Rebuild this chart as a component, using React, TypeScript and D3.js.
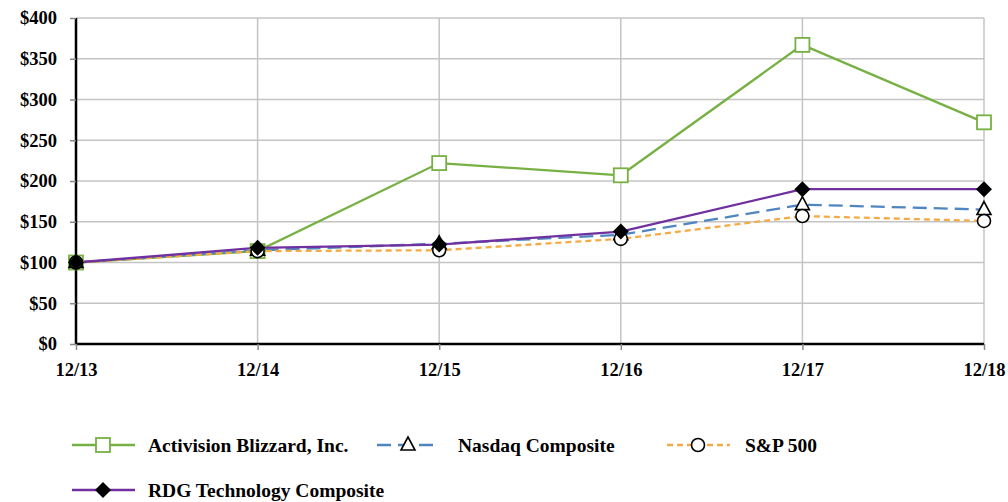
import React, { useEffect, useRef } from 'react';
import * as d3 from 'd3';

const periods = ['12/13', '12/14', '12/15', '12/16', '12/17', '12/18'];
const activision = [100, 114, 222, 207, 367, 272];
const nasdaq = [100, 115, 123, 134, 171, 165];
const sp500 = [100, 114, 115, 129, 157, 151];
const rdgTech = [100, 118, 122, 138, 190, 190];
const yTicks = [0, 50, 100, 150, 200, 250, 300, 350, 400];

type Series = {
  name: string;
  values: number[];
  color: string;
  dash: string | null;
  marker: 'square' | 'triangle' | 'circle' | 'diamond';
};

const series: Series[] = [
  { name: 'Activision Blizzard, Inc.', values: activision, color: '#77b043', dash: null, marker: 'square' },
  { name: 'Nasdaq Composite', values: nasdaq, color: '#4f86c0', dash: '14,7', marker: 'triangle' },
  { name: 'S&P 500', values: sp500, color: '#f5ab45', dash: '6,4', marker: 'circle' },
  { name: 'RDG Technology Composite', values: rdgTech, color: '#7030a0', dash: null, marker: 'diamond' },
];

const W = 1008;
const H = 502;
const FONT = '"Liberation Serif", "Times New Roman", serif';

const App: React.FC = () => {
  const svgRef = useRef<SVGSVGElement>(null);

  useEffect(() => {
    if (!svgRef.current) return;
    const svg = d3.select(svgRef.current);
    svg.selectAll('*').remove();

    const left = 76, right = 984, top = 18, bottom = 344;

    const x = d3.scalePoint<string>().domain(periods).range([left, right]);
    const y = d3.scaleLinear().domain([0, 400]).range([bottom, top]);

    // grid
    const grid = svg.append('g');
    yTicks.forEach(t => {
      grid.append('line')
        .attr('x1', left).attr('x2', right)
        .attr('y1', y(t)).attr('y2', y(t))
        .attr('stroke', '#c4c4c4').attr('stroke-width', 1.5);
    });
    periods.forEach(p => {
      grid.append('line')
        .attr('x1', x(p)!).attr('x2', x(p)!)
        .attr('y1', top).attr('y2', bottom)
        .attr('stroke', '#c4c4c4').attr('stroke-width', 1.5);
    });

    // axes
    const yAxis = svg.append('g')
      .attr('transform', `translate(${left},0)`)
      .call(d3.axisLeft(y).tickValues(yTicks).tickSize(6).tickPadding(13).tickFormat(d => `$${d}`));
    yAxis.select('.domain').attr('stroke', '#000').attr('stroke-width', 2.5).attr('d', `M0,${top}V${bottom}`);
    yAxis.selectAll('.tick line').attr('stroke', '#888').attr('stroke-width', 1.5);
    yAxis.selectAll('.tick text')
      .style('font-family', FONT).style('font-size', '18.5px').style('font-weight', 'bold').attr('fill', '#000');

    const xAxis = svg.append('g')
      .attr('transform', `translate(0,${bottom})`)
      .call(d3.axisBottom(x).tickSize(6).tickPadding(13));
    xAxis.select('.domain').attr('stroke', '#000').attr('stroke-width', 2.5).attr('d', `M${left},0H${right}`);
    xAxis.selectAll('.tick line').attr('stroke', '#888').attr('stroke-width', 1.5);
    xAxis.selectAll('.tick text')
      .style('font-family', FONT).style('font-size', '18.5px').style('font-weight', 'bold').attr('fill', '#000');

    const drawMarker = (g: d3.Selection<SVGGElement, unknown, null, undefined>, s: Series, cx: number, cy: number) => {
      if (s.marker === 'square') {
        g.append('rect')
          .attr('x', cx - 7).attr('y', cy - 7).attr('width', 14).attr('height', 14)
          .attr('fill', '#fff').attr('stroke', s.color).attr('stroke-width', 1.8);
      } else if (s.marker === 'triangle') {
        g.append('path')
          .attr('d', `M${cx},${cy - 8}L${cx + 7},${cy + 5}L${cx - 7},${cy + 5}Z`)
          .attr('fill', '#fff').attr('stroke', '#000').attr('stroke-width', 1.6);
      } else if (s.marker === 'circle') {
        g.append('circle')
          .attr('cx', cx).attr('cy', cy).attr('r', 6.5)
          .attr('fill', '#fff').attr('stroke', '#000').attr('stroke-width', 1.6);
      } else {
        g.append('path')
          .attr('d', `M${cx},${cy - 8}L${cx + 8},${cy}L${cx},${cy + 8}L${cx - 8},${cy}Z`)
          .attr('fill', '#000');
      }
    };

    const line = d3.line<number>()
      .x((_, i) => x(periods[i])!)
      .y(d => y(d));

    const plot = svg.append('g');
    series.forEach(s => {
      plot.append('path')
        .datum(s.values)
        .attr('d', line)
        .attr('fill', 'none')
        .attr('stroke', s.color)
        .attr('stroke-width', 2.3)
        .attr('stroke-dasharray', s.dash);
    });
    series.forEach(s => {
      const mg = plot.append('g');
      s.values.forEach((v, i) => drawMarker(mg, s, x(periods[i])!, y(v)));
    });

    // legend
    const legendItems = [
      { s: series[0], lx: 72, ly: 445, tx: 148 },
      { s: series[1], lx: 377, ly: 445, tx: 458 },
      { s: series[2], lx: 667, ly: 445, tx: 745 },
      { s: series[3], lx: 72, ly: 490, tx: 148 },
    ];
    const legend = svg.append('g');
    legendItems.forEach(({ s, lx, ly, tx }) => {
      const g = legend.append('g');
      g.append('line')
        .attr('x1', lx).attr('x2', lx + 63)
        .attr('y1', ly).attr('y2', ly)
        .attr('stroke', s.color).attr('stroke-width', 2.3)
        .attr('stroke-dasharray', s.dash);
      drawMarker(g, s, lx + 31, ly);
      g.append('text')
        .attr('x', tx).attr('y', ly)
        .attr('dy', '0.35em')
        .style('font-family', FONT).style('font-size', '19.5px').style('font-weight', 'bold')
        .attr('fill', '#000')
        .text(s.name);
    });
  }, []);

  return (
    <svg
      ref={svgRef}
      width={W}
      height={H}
      style={{ position: 'absolute', left: 0, top: 0, background: '#fff' }}
    />
  );
};

export default App;
